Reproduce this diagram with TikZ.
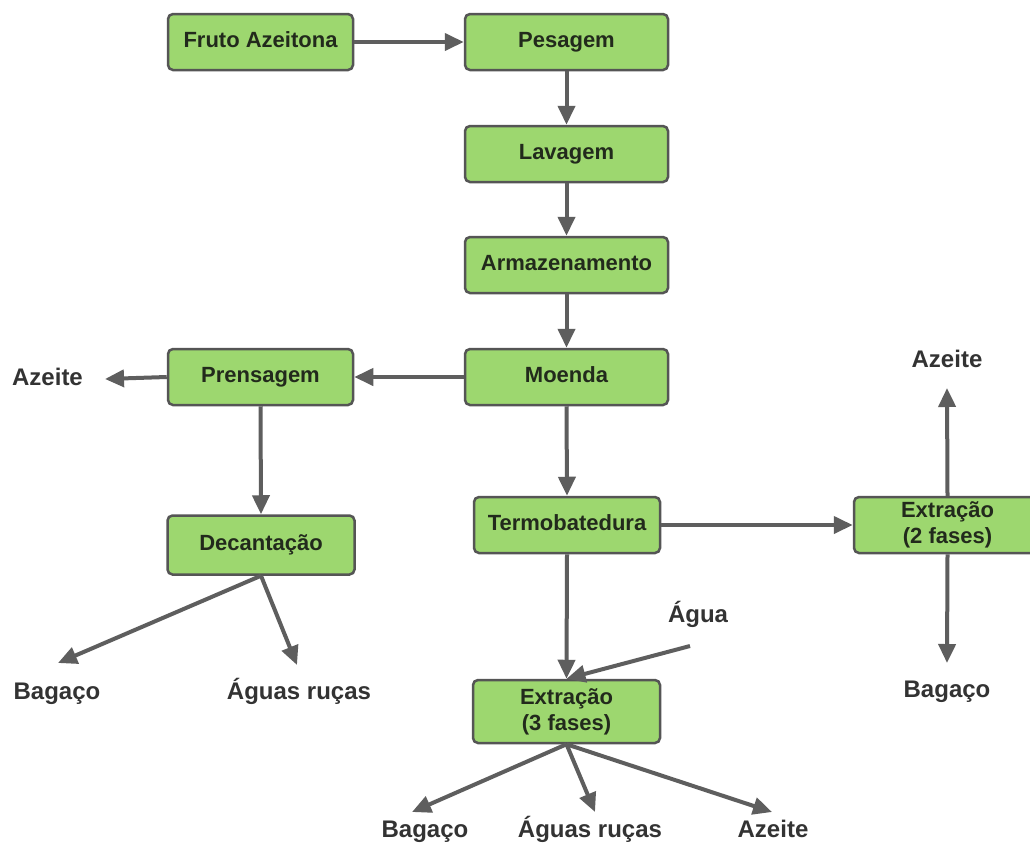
\documentclass[tikz,border=0pt]{standalone}
\usepackage{fontspec}
\setmainfont{Liberation Sans}
\usetikzlibrary{arrows.meta}
\definecolor{boxfill}{HTML}{9DD76F}
\definecolor{boxline}{HTML}{555555}
\definecolor{arrowc}{HTML}{5E5E5E}
\definecolor{txt}{HTML}{222A1C}
\definecolor{lbl}{HTML}{333333}
\begin{document}
\begin{tikzpicture}[x=1pt,y=-1pt,
  proc/.style={draw=boxline, line width=2.5pt, fill=boxfill, rounded corners=5pt,
    minimum width=185pt, minimum height=56pt, inner sep=0pt,
    font=\fontsize{22}{26}\selectfont\bfseries, text=txt, align=center},
  one/.style={text height=16pt, text depth=5pt},
  lab/.style={font=\fontsize{24}{28}\selectfont\bfseries, text=lbl, anchor=base, inner sep=0pt},
  arr/.style={draw=arrowc, line width=4pt, -{Triangle[length=19pt,width=17pt]}}]
\useasboundingbox (0,0) rectangle (1030,849);
\fill[white] (0,0) rectangle (1030,849);
\clip (0,0) rectangle (1030,849);

% boxes
\node[proc, one] (fruto) at (260.5,42) {Fruto Azeitona};
\node[proc, one, minimum width=203pt] (pesagem) at (566.5,42) {Pesagem};
\node[proc, one, minimum width=203pt] (lavagem) at (566.5,154) {Lavagem};
\node[proc, one, minimum width=203pt] (armaz) at (566.5,265) {Armazenamento};
\node[proc, one, minimum width=203pt] (moenda) at (566.5,377) {Moenda};
\node[proc, one] (prensagem) at (260.5,377) {Prensagem};
\node[proc, one, minimum width=187pt, minimum height=59pt] (decant) at (261,545) {Decantação};
\node[proc, one, minimum width=186pt] (termo) at (567,525) {Termobatedura};
\node[proc, minimum width=187pt] (ext2) at (947.5,525) {Extração\\(2 fases)};
\node[proc, minimum width=187pt, minimum height=63pt] (ext3) at (566.5,711.5) {Extração\\(3 fases)};

% labels
\node[lab] (azL) at (47.5,385) {Azeite};
\node[lab] (bagL) at (57,699) {Bagaço};
\node[lab] (aguasL) at (299,699) {Águas ruças};
\node[lab] (azR) at (947,367) {Azeite};
\node[lab] (bagR) at (947,697) {Bagaço};
\node[lab] (agua) at (698,622) {Água};
\node[lab] (bagB) at (425,837) {Bagaço};
\node[lab] (aguasB) at (590,837) {Águas ruças};
\node[lab] (azB) at (773,837) {Azeite};

% arrow ends
\coordinate (tAzL) at (105,379);
\coordinate (tBagL) at (58,663);
\coordinate (tAguasL) at (297,665);
\coordinate (tAzR) at (947,388);
\coordinate (tBagR) at (947,663);
\coordinate (sAgua) at (690,646);
\coordinate (tBagB) at (412,812);
\coordinate (tAguasB) at (595,812);
\coordinate (tAzB) at (772,812);

% connectors
\draw[arr] (fruto) -- (pesagem);
\draw[arr] (pesagem) -- (lavagem);
\draw[arr] (lavagem) -- (armaz);
\draw[arr] (armaz) -- (moenda);
\draw[arr] (moenda) -- (prensagem);
\draw[arr] (moenda.south) -- (termo.north);
\draw[arr] (prensagem.west) -- (tAzL);
\draw[arr] (prensagem.south) -- (decant.north);
\draw[arr] (decant.south) -- (tBagL);
\draw[arr] (decant.south) -- (tAguasL);
\draw[arr] (termo) -- (ext2);
\draw[arr] (termo.south) -- (ext3.north);
\draw[arr] (ext2.north) -- (tAzR);
\draw[arr] (ext2.south) -- (tBagR);
\draw[arr] (sAgua) -- (ext3.north);
\draw[arr] (ext3.south) -- (tBagB);
\draw[arr] (ext3.south) -- (tAguasB);
\draw[arr] (ext3.south) -- (tAzB);
\end{tikzpicture}
\end{document}
